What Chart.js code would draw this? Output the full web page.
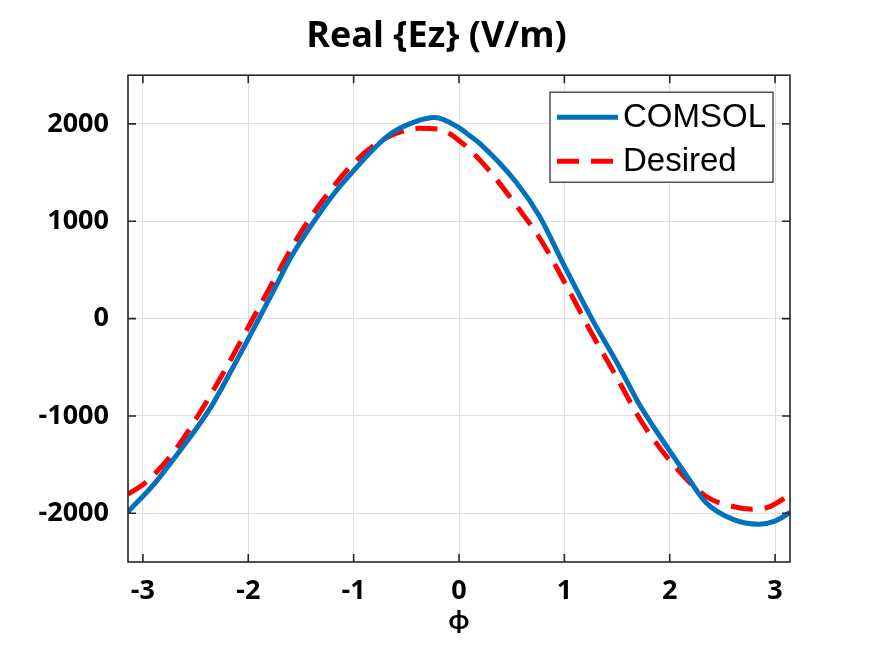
<!DOCTYPE html>
<html>
<head>
<meta charset="utf-8">
<script src="https://cdn.jsdelivr.net/npm/chart.js@4/dist/chart.umd.min.js"></script>
<style>
  html, body { margin: 0; padding: 0; background: #fff; }
  #wrap { width: 873px; height: 653px; }
</style>
</head>
<body>
<div id="wrap"><canvas id="ezChart"></canvas></div>
<script>
// ── data ──
const phiComsol = [-3.1416, -2.882, -2.692, -2.361, -2.156, -1.936, -1.761, -1.603, -1.397, -1.193, -1.0, -0.81,
    -0.652, -0.432, -0.23, 0.0, 0.1, 0.196, 0.543, 0.764, 1.0, 1.26, 1.518, 1.711, 1.963, 2.153, 2.343, 2.595,
    2.847, 3.0, 3.1416];
const ezComsol = [-1985, -1684, -1420, -920, -523, -78, 285, 615, 965, 1275, 1520, 1742,
    1896, 2016, 2065, 1960, 1880, 1800, 1400, 1050, 540, 0, -489, -880, -1300, -1600, -1888, -2059,
    -2111, -2080, -1992];

const phiDesired = [-3.1416, -2.976, -2.724, -2.44, -2.219, -1.966, -1.76, -1.524, -1.288, -0.968, -0.72, -0.59,
    -0.38, -0.18, -0.025, 0.227, 0.575, 0.764, 1.04, 1.24, 1.49, 1.742, 2.027, 2.343, 2.6, 2.784, 2.93, 3.1416];
const ezDesired = [-1803, -1684, -1393, -932, -523, -20, 390, 846, 1222, 1632, 1840, 1906,
    1955, 1945, 1851, 1595, 1117, 830, 297, -113, -590, -1075, -1490, -1825, -1930, -1957, -1940, -1810];

const xTicks = [-3, -2, -1, 0, 1, 2, 3];
const yTicks = [-2000, -1000, 0, 1000, 2000];

const seriesNames = ['COMSOL', 'Desired'];

const tickFont = { family: '"Open Sans", Lato, sans-serif', size: 27, weight: 'bold' };
const axisColor = '#262626';

// frame with inward ticks on all four sides, like the original
const framePlugin = {
    id: 'frame',
    afterDraw(chart) {
        const { ctx, chartArea: a, scales: { x, y } } = chart;
        const tl = 8;
        ctx.save();
        ctx.strokeStyle = axisColor;
        ctx.lineWidth = 1.6;
        ctx.strokeRect(a.left, a.top, a.right - a.left, a.bottom - a.top);
        ctx.beginPath();
        xTicks.forEach(v => {
            const px = x.getPixelForValue(v);
            ctx.moveTo(px, a.bottom); ctx.lineTo(px, a.bottom - tl);
            ctx.moveTo(px, a.top); ctx.lineTo(px, a.top + tl);
        });
        yTicks.forEach(v => {
            const py = y.getPixelForValue(v);
            ctx.moveTo(a.left, py); ctx.lineTo(a.left + tl, py);
            ctx.moveTo(a.right, py); ctx.lineTo(a.right - tl, py);
        });
        ctx.stroke();
        ctx.restore();
    }
};

// boxed legend in the upper right corner
const boxLegendPlugin = {
    id: 'boxLegend',
    afterDraw(chart) {
        const { ctx, chartArea: a } = chart;
        const w = 223, h = 90;
        const bx = a.right - 17 - w, by = a.top + 17;
        ctx.save();
        ctx.fillStyle = '#fff';
        ctx.fillRect(bx, by, w, h);
        ctx.strokeStyle = axisColor;
        ctx.lineWidth = 1.2;
        ctx.strokeRect(bx, by, w, h);
        ctx.font = '33px "Liberation Sans", Arial, sans-serif';
        ctx.textBaseline = 'middle';
        ctx.fillStyle = '#000';
        chart.data.datasets.forEach((ds, i) => {
            const ly = by + 25 + i * 44;
            ctx.beginPath();
            ctx.strokeStyle = ds.borderColor;
            ctx.lineWidth = ds.borderWidth;
            ctx.setLineDash(ds.borderDash || []);
            ctx.moveTo(bx + 7, ly);
            ctx.lineTo(bx + 68, ly);
            ctx.stroke();
            ctx.setLineDash([]);
            ctx.fillText(seriesNames[i], bx + 73, ly + 1);
        });
        ctx.restore();
    }
};

new Chart(document.getElementById('ezChart'), {
    type: 'scatter',
    data: {
        datasets: [{
            label: seriesNames[0],
            data: phiComsol.map((p, i) => ({ x: p, y: ezComsol[i] })),
            showLine: true,
            borderColor: '#0072BD',
            borderWidth: 5,
            pointRadius: 0,
            cubicInterpolationMode: 'monotone',
            clip: 0
        }, {
            label: seriesNames[1],
            data: phiDesired.map((p, i) => ({ x: p, y: ezDesired[i] })),
            showLine: true,
            borderColor: '#FF0000',
            borderWidth: 5,
            borderDash: [22, 12],
            pointRadius: 0,
            cubicInterpolationMode: 'monotone',
            clip: 0
        }]
    },
    options: {
        responsive: true,
        maintainAspectRatio: false,
        animation: false,
        layout: { padding: 0 },
        plugins: {
            legend: { display: false },
            tooltip: { enabled: false },
            title: {
                display: true,
                text: 'Real {Ez} (V/m)',
                color: '#000',
                font: { family: '"Open Sans", Lato, sans-serif', size: 36, weight: 'bold', lineHeight: 1.2 },
                padding: { top: 15, bottom: 17 }
            }
        },
        scales: {
            x: {
                type: 'linear',
                min: -Math.PI,
                max: Math.PI,
                afterBuildTicks: s => { s.ticks = xTicks.map(v => ({ value: v })); },
                afterFit: s => { s.height = 91; },
                grid: { color: '#dedede', lineWidth: 1, drawTicks: false },
                border: { display: false },
                ticks: { color: '#000', font: tickFont, padding: 13, callback: v => String(v) },
                title: {
                    display: true,
                    text: 'ϕ',
                    color: '#000',
                    font: tickFont,
                    padding: { top: 0, bottom: 15 }
                }
            },
            y: {
                min: -2500,
                max: 2500,
                afterBuildTicks: s => { s.ticks = yTicks.map(v => ({ value: v })); },
                afterFit: s => { s.width = 128; },
                grid: { color: '#dedede', lineWidth: 1, drawTicks: false },
                border: { display: false },
                ticks: { color: '#000', font: tickFont, padding: 19, callback: v => String(v) }
            },
            // empty right-hand margin so the title stays centred on the whole figure
            yRight: {
                position: 'right',
                min: -2500,
                max: 2500,
                afterFit: s => { s.width = 83; },
                grid: { display: false, drawOnChartArea: false },
                border: { display: false },
                ticks: { display: false }
            }
        }
    },
    plugins: [framePlugin, boxLegendPlugin]
});
</script>
</body>
</html>
